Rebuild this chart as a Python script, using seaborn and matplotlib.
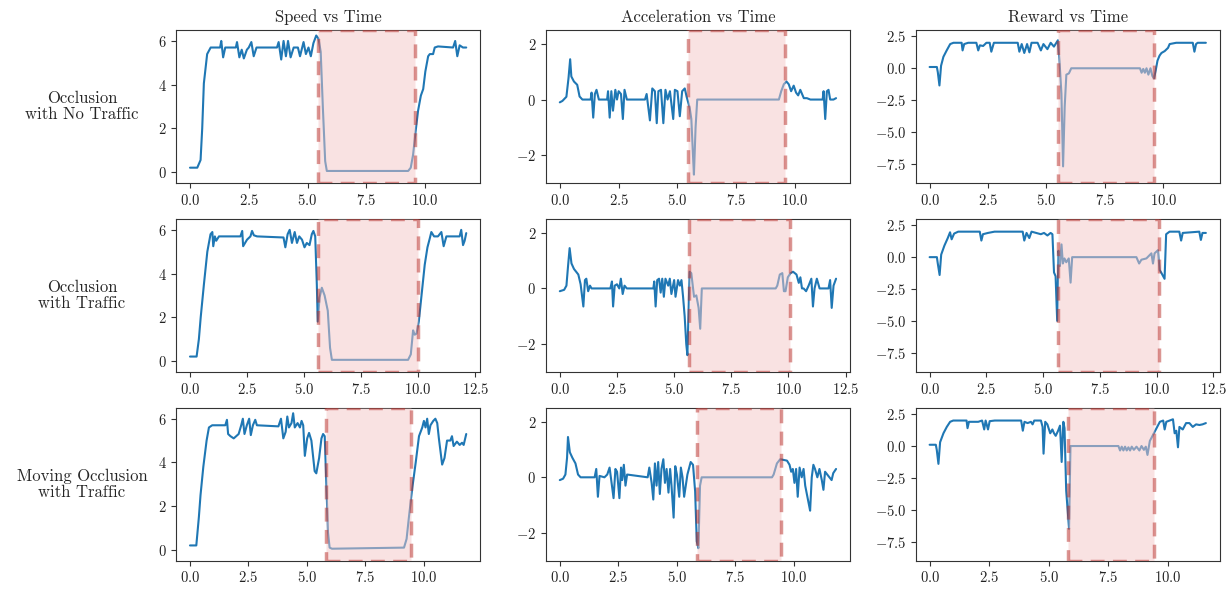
import numpy as np
import pandas as pd
import matplotlib
matplotlib.use("Agg")
import matplotlib.pyplot as plt
from matplotlib.ticker import MultipleLocator
import seaborn as sns

# ---- data (time [s], value) ----
row_labels = ["Occlusion\nwith No Traffic", "Occlusion\nwith Traffic", "Moving Occlusion\nwith Traffic"]
col_titles = ["Speed vs Time", "Acceleration vs Time", "Reward vs Time"]

# occluded interval per panel (start, end)
spans = [
    [(5.43, 9.59), (5.46, 9.59), (5.48, 9.62)],
    [(5.63, 10.0), (5.65, 10.05), (5.66, 10.1)],
    [(5.83, 9.45), (5.85, 9.48), (5.8, 9.4)],
]

speed_no_traffic = [
    (0, 0.2), (0.31, 0.2), (0.45, 0.55), (0.52, 2.0), (0.59, 4.06), (0.73, 5.4), (0.88, 5.7),
    (1.28, 5.7), (1.33, 6.0), (1.41, 5.25), (1.5, 5.7), (1.95, 5.7), (2.0, 5.95), (2.1, 5.25),
    (2.2, 5.6), (2.29, 5.2), (2.42, 5.6), (2.5, 5.7), (2.61, 5.95), (2.71, 5.3), (2.83, 5.7),
    (3.7, 5.7), (3.77, 5.95), (3.88, 5.15), (3.98, 6.0), (4.08, 5.3), (4.17, 6.0), (4.28, 5.25),
    (4.41, 5.7), (4.59, 5.7), (4.68, 5.3), (4.83, 5.95), (4.93, 5.4), (5.04, 5.7), (5.14, 5.3),
    (5.25, 5.9), (5.37, 6.25), (5.47, 6.1), (5.56, 5.5), (5.65, 3.0), (5.75, 0.5), (5.82, 0.05),
    (9.28, 0.05), (9.39, 0.2), (9.49, 0.8), (9.59, 1.8), (9.7, 2.8), (9.82, 3.5), (9.92, 3.8),
    (10.01, 4.6), (10.13, 5.3), (10.2, 5.4), (10.34, 5.4), (10.41, 5.7), (10.55, 5.75),
    (11.19, 5.7), (11.28, 6.0), (11.37, 5.3), (11.47, 5.8), (11.61, 5.7), (11.75, 5.7),
]
accel_no_traffic = [
    (0, -0.1), (0.11, -0.05), (0.28, 0.1), (0.37, 0.77), (0.44, 1.45), (0.49, 0.83), (0.6, 0.65),
    (0.74, 0.53), (0.84, 0.11), (0.96, 0.0), (1.31, 0.0), (1.35, 0.25), (1.42, -0.65), (1.49, 0.2),
    (1.56, 0.35), (1.66, 0.0), (2.01, 0.0), (2.05, 0.3), (2.12, -0.65), (2.19, 0.3), (2.26, -0.4),
    (2.36, 0.35), (2.43, 0.0), (2.5, 0.3), (2.6, 0.2), (2.68, -0.7), (2.75, 0.35), (2.85, 0.0),
    (3.62, 0.0), (3.69, 0.2), (3.83, -0.75), (3.93, 0.4), (4.04, 0.3), (4.12, -0.85), (4.19, 0.3),
    (4.3, 0.35), (4.4, -0.85), (4.49, 0.35), (4.58, 0.0), (4.68, 0.3), (4.82, -0.7), (4.89, 0.35),
    (5.0, 0.3), (5.1, -0.6), (5.2, 0.3), (5.31, 0.4), (5.39, 0.1), (5.52, -0.3), (5.59, -0.7),
    (5.66, -2.0), (5.7, -2.7), (5.77, -1.0), (5.84, 0.0), (9.31, 0.0), (9.41, 0.3), (9.52, 0.55),
    (9.63, 0.65), (9.73, 0.55), (9.83, 0.3), (9.94, 0.5), (10.04, 0.25), (10.13, 0.15),
    (10.22, 0.35), (10.37, 0.05), (10.5, 0.05), (10.65, 0.0), (11.17, 0.0), (11.21, 0.3),
    (11.28, -0.7), (11.35, 0.3), (11.42, 0.35), (11.49, 0.0), (11.63, 0.0), (11.74, 0.05),
]
reward_no_traffic = [
    (0, 0.1), (0.31, 0.1), (0.35, -0.3), (0.42, -1.35), (0.49, 0.2), (0.59, 0.9), (0.73, 1.4),
    (0.88, 1.9), (1.02, 2.0), (1.37, 2.0), (1.41, 1.4), (1.48, 1.9), (1.65, 2.0), (2.0, 2.0),
    (2.08, 1.4), (2.15, 1.8), (2.29, 1.75), (2.43, 2.0), (2.57, 2.0), (2.64, 1.3), (2.75, 2.0),
    (3.77, 2.0), (3.84, 1.3), (3.94, 1.9), (4.05, 1.2), (4.17, 1.9), (4.27, 1.25), (4.36, 2.0),
    (4.62, 2.0), (4.76, 1.4), (4.87, 1.9), (5.04, 1.5), (5.18, 2.0), (5.32, 1.7), (5.49, 2.2),
    (5.56, 0.5), (5.64, -2.0), (5.71, -7.7), (5.78, -3.0), (5.85, -0.5), (5.96, -0.4), (6.06, 0.0),
    (9.0, 0.0), (9.07, -0.35), (9.14, -0.05), (9.21, -0.35), (9.28, 0.0), (9.36, -0.5), (9.45, 0.0),
    (9.53, -0.6), (9.6, -0.8), (9.67, -0.2), (9.75, 0.6), (9.84, 1.0), (9.92, 1.2), (10.06, 1.35),
    (10.2, 1.6), (10.27, 1.9), (10.55, 2.0), (11.26, 2.0), (11.33, 1.3), (11.4, 1.9), (11.47, 2.0),
    (11.82, 2.0),
]

speed_traffic = [
    (0, 0.2), (0.29, 0.2), (0.39, 1.0), (0.47, 2.0), (0.61, 3.5), (0.76, 5.0), (0.9, 5.8),
    (0.98, 5.9), (1.02, 5.25), (1.09, 5.7), (1.15, 5.5), (1.27, 5.7), (2.21, 5.7), (2.29, 5.95),
    (2.33, 5.25), (2.5, 5.55), (2.65, 5.7), (2.72, 5.95), (2.8, 5.75), (2.94, 5.7), (4.1, 5.65),
    (4.18, 5.2), (4.28, 5.8), (4.37, 6.0), (4.47, 5.4), (4.59, 5.9), (4.69, 5.4), (4.79, 5.7),
    (4.91, 5.55), (5.02, 5.2), (5.12, 5.4), (5.24, 5.3), (5.34, 5.8), (5.41, 5.95), (5.49, 5.7),
    (5.56, 3.5), (5.6, 1.8), (5.68, 2.9), (5.78, 3.35), (5.9, 3.0), (6.04, 2.3), (6.14, 0.6),
    (6.22, 0.05), (9.56, 0.05), (9.68, 0.3), (9.78, 1.4), (9.85, 1.2), (9.93, 1.25), (10.03, 1.8),
    (10.15, 3.0), (10.29, 4.4), (10.41, 5.2), (10.51, 5.6), (10.58, 5.9), (10.7, 5.7),
    (10.87, 5.7), (11.02, 5.9), (11.12, 5.25), (11.24, 5.7), (11.82, 5.7), (11.89, 6.0),
    (11.97, 5.3), (12.04, 5.5), (12.11, 5.85),
]
accel_traffic = [
    (0, -0.1), (0.19, -0.05), (0.29, 0.1), (0.36, 0.8), (0.43, 1.45), (0.51, 0.9), (0.62, 0.7),
    (0.81, 0.5), (0.91, 0.15), (1.03, -0.65), (1.1, 0.3), (1.16, 0.35), (1.24, -0.1), (1.32, 0.1),
    (1.39, 0.0), (2.21, 0.0), (2.28, 0.25), (2.33, -0.65), (2.4, 0.1), (2.5, 0.15), (2.6, 0.0),
    (2.67, 0.35), (2.75, -0.2), (2.83, 0.1), (2.93, 0.0), (4.09, 0.0), (4.13, 0.25), (4.19, -0.65),
    (4.26, 0.3), (4.34, 0.35), (4.41, -0.15), (4.48, 0.35), (4.55, -0.3), (4.62, 0.35),
    (4.74, 0.1), (4.81, 0.35), (4.88, -0.2), (5.0, 0.3), (5.06, -0.3), (5.17, 0.3), (5.25, 0.1),
    (5.32, 0.3), (5.39, -0.3), (5.46, -1.0), (5.53, -2.0), (5.58, -2.4), (5.64, -0.5),
    (5.68, 0.6), (5.75, 0.55), (5.87, -0.3), (5.97, -0.25), (6.07, -0.7), (6.14, -1.45),
    (6.21, 0.0), (9.44, 0.0), (9.51, 0.1), (9.62, 0.5), (9.73, 0.55), (9.8, -0.1), (9.87, -0.1),
    (9.97, 0.4), (10.09, 0.55), (10.2, 0.6), (10.35, 0.5), (10.45, 0.2), (10.52, 0.4),
    (10.59, 0.0), (10.66, 0.0), (10.77, -0.1), (10.88, 0.1), (11.0, 0.35), (11.07, -0.65),
    (11.14, 0.0), (11.24, 0.35), (11.36, 0.0), (11.75, 0.0), (11.82, 0.3), (11.89, -0.7),
    (11.97, 0.1), (12.08, 0.35),
]
reward_traffic = [
    (0, 0.0), (0.32, 0.0), (0.36, -0.5), (0.44, -1.4), (0.51, 0.2), (0.65, 0.9), (0.8, 1.5),
    (0.9, 1.95), (0.97, 1.4), (1.08, 1.85), (1.26, 2.0), (2.21, 2.0), (2.28, 1.3), (2.35, 1.8),
    (2.57, 1.9), (2.86, 2.0), (4.1, 2.0), (4.17, 1.3), (4.27, 1.9), (4.39, 1.5), (4.49, 2.0),
    (4.9, 1.8), (5.04, 1.9), (5.19, 1.7), (5.33, 1.9), (5.41, 1.8), (5.48, -1.2), (5.55, -1.5),
    (5.62, -5.0), (5.68, 0.5), (5.74, -0.7), (5.81, 1.0), (5.87, -0.5), (5.94, -0.1),
    (6.02, -0.4), (6.13, -0.1), (6.21, -2.0), (6.28, 0.0), (9.11, 0.0), (9.23, -0.5),
    (9.33, -0.2), (9.55, -0.1), (9.77, 0.3), (9.84, -0.5), (9.91, 0.3), (10.06, 0.55),
    (10.13, -1.0), (10.2, -1.2), (10.35, -1.7), (10.42, 1.8), (10.57, 2.0), (11.0, 2.0),
    (11.08, 1.3), (11.15, 1.9), (11.88, 2.0), (11.95, 1.35), (12.02, 1.9), (12.17, 1.9),
]

speed_moving = [
    (0, 0.2), (0.27, 0.2), (0.38, 1.5), (0.45, 2.5), (0.57, 3.8), (0.71, 5.0), (0.81, 5.6),
    (0.95, 5.7), (1.51, 5.7), (1.58, 5.95), (1.63, 5.3), (1.73, 5.2), (1.87, 5.1), (2.08, 5.3),
    (2.19, 5.7), (2.26, 6.0), (2.33, 5.3), (2.43, 5.7), (2.53, 6.0), (2.6, 5.25), (2.69, 5.7),
    (2.79, 5.95), (2.86, 5.7), (3.78, 5.65), (3.89, 6.0), (3.99, 5.1), (4.09, 5.4), (4.16, 6.1),
    (4.23, 5.6), (4.34, 5.8), (4.41, 6.25), (4.48, 5.6), (4.6, 5.8), (4.7, 5.6), (4.77, 5.9),
    (4.84, 5.7), (4.91, 4.3), (5.01, 5.1), (5.09, 5.35), (5.19, 5.0), (5.26, 4.3), (5.33, 3.6),
    (5.4, 3.5), (5.52, 4.2), (5.62, 5.1), (5.69, 5.3), (5.76, 5.2), (5.83, 3.0), (5.9, 0.8),
    (5.97, 0.1), (6.07, 0.05), (9.15, 0.1), (9.26, 0.5), (9.36, 1.5), (9.5, 2.8), (9.65, 4.0),
    (9.79, 5.2), (9.93, 5.6), (10.0, 5.9), (10.07, 5.6), (10.14, 6.0), (10.21, 5.3), (10.28, 5.7),
    (10.4, 5.9), (10.49, 6.0), (10.57, 5.8), (10.64, 5.1), (10.71, 4.5), (10.78, 3.9),
    (10.88, 4.2), (10.99, 5.0), (11.13, 5.0), (11.2, 5.2), (11.27, 4.75), (11.41, 4.95),
    (11.53, 4.8), (11.63, 4.9), (11.7, 4.8), (11.81, 5.3),
]
accel_moving = [
    (0, -0.1), (0.14, -0.05), (0.24, 0.1), (0.31, 0.7), (0.35, 1.45), (0.43, 0.9), (0.54, 0.7),
    (0.67, 0.5), (0.78, 0.1), (0.89, 0.0), (1.49, 0.0), (1.56, 0.3), (1.63, -0.7), (1.7, 0.05),
    (1.91, 0.0), (2.03, 0.1), (2.13, 0.35), (2.2, -0.1), (2.3, -0.75), (2.38, 0.3), (2.45, 0.2),
    (2.55, -0.75), (2.62, 0.35), (2.67, -0.1), (2.74, 0.45), (2.81, -0.3), (2.88, 0.1),
    (3.76, 0.0), (3.83, 0.35), (3.93, -0.2), (4.0, -0.8), (4.07, 0.5), (4.14, -0.3), (4.21, 0.55),
    (4.28, -0.6), (4.35, 0.3), (4.43, 0.65), (4.5, -0.2), (4.57, 0.3), (4.65, -0.55), (4.72, 0.3),
    (4.78, -0.3), (4.87, -1.45), (4.94, 0.4), (5.01, 0.1), (5.11, -0.7), (5.18, 0.35), (5.25, 0.0),
    (5.32, -0.7), (5.46, 0.1), (5.6, 0.55), (5.7, 0.45), (5.79, -0.5), (5.86, -2.3),
    (5.93, -2.55), (6.0, -0.3), (6.07, 0.0), (9.08, 0.0), (9.15, 0.1), (9.29, 0.5), (9.43, 0.65),
    (9.72, 0.6), (9.83, 0.45), (9.9, 0.2), (9.97, 0.3), (10.04, -0.2), (10.11, 0.3),
    (10.18, -0.7), (10.26, 0.35), (10.35, 0.0), (10.43, 0.3), (10.5, -0.3), (10.57, -0.6),
    (10.64, -0.9), (10.71, -1.2), (10.78, 0.0), (10.85, 0.45), (10.92, 0.3), (11.02, 0.0),
    (11.11, 0.3), (11.21, -0.1), (11.28, -0.45), (11.35, 0.2), (11.49, 0.05), (11.63, -0.1),
    (11.7, 0.15), (11.82, 0.3),
]
reward_moving = [
    (0, 0.1), (0.26, 0.1), (0.3, -0.3), (0.37, -1.4), (0.44, 0.3), (0.58, 1.0), (0.72, 1.5),
    (0.86, 1.9), (0.99, 2.0), (1.55, 2.0), (1.59, 1.4), (1.65, 1.9), (2.04, 1.9), (2.2, 2.0),
    (2.29, 1.3), (2.35, 2.0), (2.45, 1.3), (2.52, 1.95), (2.73, 2.0), (3.84, 2.0), (3.91, 1.2),
    (3.98, 1.9), (4.11, 1.8), (4.25, 1.9), (4.32, 1.7), (4.39, 2.0), (4.67, 2.0), (4.74, 1.5),
    (4.78, -0.6), (4.85, 1.9), (4.94, 1.7), (5.06, 1.0), (5.15, 1.3), (5.22, 1.0), (5.29, 0.8),
    (5.39, 1.2), (5.47, 1.6), (5.54, -1.25), (5.61, 1.9), (5.66, 1.4), (5.73, -3.5), (5.79, -5.0),
    (5.85, -6.5), (5.91, 0.0), (7.92, 0.0), (7.99, -0.35), (8.06, -0.05), (8.13, -0.35),
    (8.2, -0.05), (8.27, -0.35), (8.34, -0.1), (8.41, -0.35), (8.48, -0.05), (8.57, -0.3),
    (8.68, -0.05), (8.8, -0.35), (8.89, 0.0), (8.99, -0.3), (9.07, -0.05), (9.14, -0.7),
    (9.24, 0.4), (9.38, 0.9), (9.52, 1.4), (9.66, 1.9), (9.8, 2.0), (9.86, 1.3), (9.93, 1.9),
    (10.07, 2.0), (10.21, 2.1), (10.28, 1.0), (10.35, 1.2), (10.42, -0.1), (10.48, 1.5),
    (10.62, 1.3), (10.76, 1.8), (10.9, 1.8), (11.04, 1.5), (11.18, 1.7), (11.32, 1.65),
    (11.45, 1.7), (11.59, 1.8),
]

panels = [
    [speed_no_traffic, accel_no_traffic, reward_no_traffic],
    [speed_traffic, accel_traffic, reward_traffic],
    [speed_moving, accel_moving, reward_moving],
]

y_limits = [(-0.5, 6.5), (-3.0, 2.5), (-9.0, 3.0)]
y_ticks = [[0, 2, 4, 6], [-2, 0, 2], [-7.5, -5.0, -2.5, 0.0, 2.5]]

# ---- style ----
sns.set_style("ticks")
plt.rcParams['font.family'] = ['cmr10']
plt.rcParams['mathtext.fontset'] = 'cm'
plt.rcParams['axes.formatter.use_mathtext'] = True
plt.rcParams['axes.unicode_minus'] = True
plt.rcParams['font.size'] = 10
plt.rcParams['axes.edgecolor'] = '#333333'

line_color = "#1f77b4"
span_face = (0.96, 0.78, 0.78, 0.5)
span_edge = (0.72, 0.18, 0.16, 0.5)

fig, axes = plt.subplots(3, 3, figsize=(12.32, 5.89), dpi=100)
fig.subplots_adjust(left=0.143, right=0.990, top=0.949, bottom=0.048, wspace=0.217, hspace=0.235)

for r in range(3):
    for c in range(3):
        ax = axes[r, c]
        df = pd.DataFrame(panels[r][c], columns=['time', 'value'])
        sns.lineplot(data=df, x='time', y='value', ax=ax, color=line_color,
                     linewidth=1.5, estimator=None, sort=False)
        x0, x1 = spans[r][c]
        ax.axvspan(x0, x1, facecolor=span_face, edgecolor=span_edge,
                   linestyle=(0, (4.0, 2.4)), linewidth=2.5, zorder=3)
        ax.set_ylim(*y_limits[c])
        ax.set_yticks(y_ticks[c])
        ax.xaxis.set_major_locator(MultipleLocator(2.5))
        ax.set_xlabel('')
        ax.set_ylabel('')
        ax.tick_params(labelsize=10.5, color='#333333', labelcolor='#222222')
        if r == 0:
            ax.set_title(col_titles[c], fontsize=12, pad=6)
    axes[r, 0].text(-0.31, 0.5, row_labels[r], transform=axes[r, 0].transAxes,
                    ha='center', va='center', fontsize=12, linespacing=1.1)

fig.savefig("out.png", dpi=100)
